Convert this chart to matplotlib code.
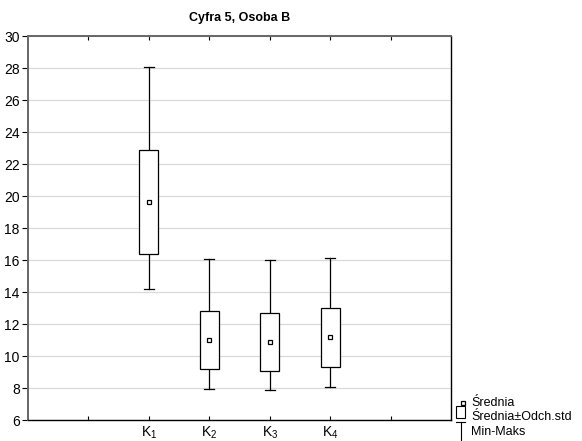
import matplotlib
matplotlib.use("Agg")
import matplotlib.pyplot as plt
from matplotlib.lines import Line2D
from matplotlib.patches import Rectangle

plt.rcParams['font.family'] = ['Liberation Sans', 'DejaVu Sans']
plt.rcParams['mathtext.fontset'] = 'custom'
plt.rcParams['mathtext.rm'] = 'Liberation Sans'

# data
groups = ['K_1', 'K_2', 'K_3', 'K_4']
means = [19.65, 11.02, 10.86, 11.19]
sd_low = [16.40, 9.19, 9.04, 9.33]
sd_high = [22.87, 12.83, 12.67, 13.02]
mins = [14.19, 7.96, 7.86, 8.06]
maxs = [28.05, 16.04, 15.98, 16.10]

W, H = 582, 441
fig = plt.figure(figsize=(W / 100, H / 100), dpi=100)
ax = fig.add_axes([28 / W, 21 / H, 423 / W, 384 / H])

pos = range(1, len(groups) + 1)
bw = 0.31
cw = 0.16
for x, m, lo, hi, mn, mx in zip(pos, means, sd_low, sd_high, mins, maxs):
    ax.plot([x, x], [mn, lo], color='black', lw=0.9, zorder=3)
    ax.plot([x, x], [hi, mx], color='black', lw=0.9, zorder=3)
    ax.plot([x - cw / 2, x + cw / 2], [mn, mn], color='black', lw=0.9, zorder=3)
    ax.plot([x - cw / 2, x + cw / 2], [mx, mx], color='black', lw=0.9, zorder=3)
    ax.add_patch(Rectangle((x - bw / 2, lo), bw, hi - lo, facecolor='white',
                           edgecolor='black', lw=0.9, zorder=4))
    ax.plot(x, m, marker='s', ms=3.5, mfc='white', mec='black', mew=0.9, zorder=5)

ax.set_xlim(-1, 6)
ax.set_ylim(6, 30)
ax.set_yticks(range(6, 31, 2))
ax.set_xticks(range(0, 6))
ax.set_xticklabels([''] + [r'$\mathregular{%s}$' % g for g in groups] + [''])
ax.yaxis.grid(True, color='#d9d9d9', lw=0.9)
ax.set_axisbelow(True)
ax.tick_params(axis='y', direction='out', length=4, width=0.8, labelsize=10, pad=2)
ax.tick_params(axis='x', direction='in', length=3, width=0.8, labelsize=10, pad=3,
               top=True)
for s in ['left', 'top']:
    ax.spines[s].set_color('#666666')
    ax.spines[s].set_linewidth(1.4)
for s in ['bottom', 'right']:
    ax.spines[s].set_color('black')
    ax.spines[s].set_linewidth(1.0)

fig.text(240 / W, 1 - 18 / H, 'Cyfra 5, Osoba B', ha='center', va='center',
         fontsize=9, fontweight='bold')

# legend drawn outside the axes
def fx(px):
    return px / W

def fy(py):
    return 1 - py / H

fig.add_artist(Line2D([fx(462.5)], [fy(403)], marker='s', ms=3.5, mfc='white',
                      mec='black', mew=0.9, transform=fig.transFigure))
fig.text(fx(471), fy(403), 'Średnia', va='center', fontsize=9)
fig.add_artist(Rectangle((fx(456), fy(418)), fx(9), 12.5 / H, facecolor='white',
                         edgecolor='black', lw=0.8, transform=fig.transFigure))
fig.text(fx(471), fy(417), 'Średnia±Odch.std', va='center', fontsize=9)
fig.add_artist(Line2D([fx(456), fx(465)], [fy(422), fy(422)], color='black', lw=0.8,
                      transform=fig.transFigure))
fig.add_artist(Line2D([fx(460.5), fx(460.5)], [fy(422), fy(441)], color='black', lw=0.8,
                      transform=fig.transFigure))
fig.text(fx(471), fy(432), 'Min-Maks', va='center', fontsize=9)

fig.savefig('out.png', dpi=100)
